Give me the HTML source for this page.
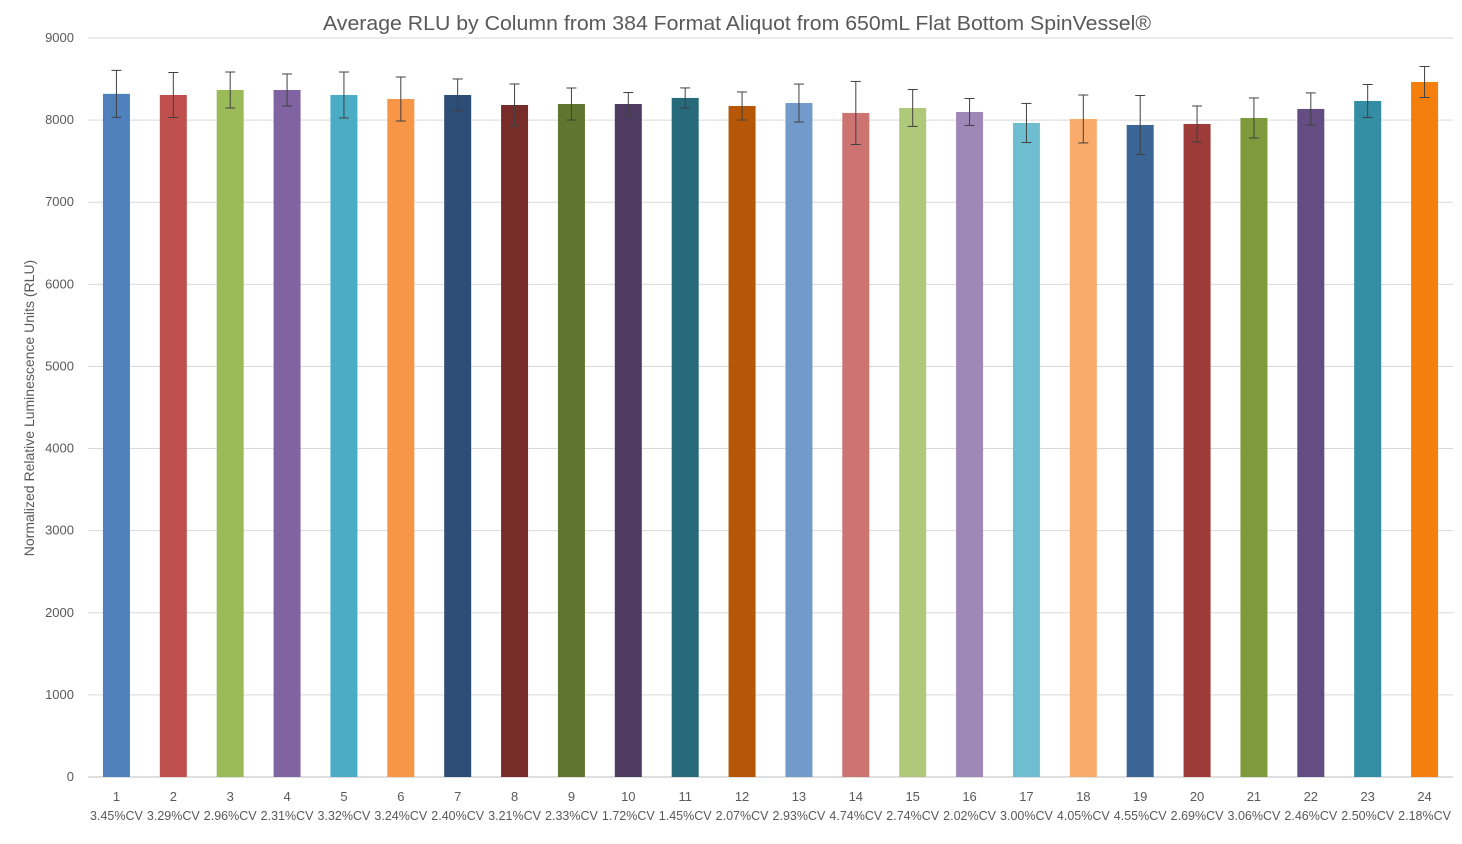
<!DOCTYPE html>
<html><head><meta charset="utf-8"><style>
body{margin:0;background:#fff;}
svg text{font-family:"Liberation Sans",sans-serif;fill:#595959;}
</style></head><body>
<svg width="1462" height="839" id="chart">
<text x="737" y="30" font-size="20.5" text-anchor="middle" textLength="828" lengthAdjust="spacingAndGlyphs">Average RLU by Column from 384 Format Aliquot from 650mL Flat Bottom SpinVessel®</text>
<text transform="translate(34,408) rotate(-90)" font-size="14" text-anchor="middle">Normalized Relative Luminescence Units (RLU)</text>
<g id="grid"></g><g id="bars"></g><g id="xl"></g>
</svg>
<script>
const categories=["1","2","3","4","5","6","7","8","9","10","11","12","13","14","15","16","17","18","19","20","21","22","23","24"];
const cvLabels=["3.45%CV","3.29%CV","2.96%CV","2.31%CV","3.32%CV","3.24%CV","2.40%CV","3.21%CV","2.33%CV","1.72%CV","1.45%CV","2.07%CV","2.93%CV","4.74%CV","2.74%CV","2.02%CV","3.00%CV","4.05%CV","4.55%CV","2.69%CV","3.06%CV","2.46%CV","2.50%CV","2.18%CV"];
const values=[8320,8306,8367,8367,8306,8257,8306,8184,8196,8196,8270,8172,8208,8087,8148,8099,7965,8014,7941,7953,8026,8136,8233,8464];
const errors=[286,274,219,195,280,268,195,256,195,140,122,171,231,384,225,164,238,292,359,219,244,195,201,189];
const yTicks=[0,1000,2000,3000,4000,5000,6000,7000,8000,9000];
const colors=["#4f81bd","#c0504d","#9bbb59","#8064a2","#4bacc6","#f79646","#2c4d75","#772c2a","#5f7530","#4d3b62","#276a7c","#b65708","#729aca","#cd7371","#afc97a","#9d88b7","#6fbdd1","#f9ab6b","#3a6595","#9c3b38","#7d9a3c","#644d82","#338da3","#f57f0c"];
const NS="http://www.w3.org/2000/svg";
const X0=88,X1=1453,Y0=777,Y1=38,YMAX=9000;
const y=v=>Y0-(v/YMAX)*(Y0-Y1);
const bw=(X1-X0)/categories.length;
const cx=i=>X0+bw*(i+0.5);
function mk(tag,attrs,parent){const e=document.createElementNS(NS,tag);for(const k in attrs)e.setAttribute(k,attrs[k]);parent.appendChild(e);return e;}
const grid=document.getElementById('grid'),bars=document.getElementById('bars'),xl=document.getElementById('xl');
yTicks.forEach(t=>{
 const l=mk('line',{x1:X0,x2:X1,y1:y(t),y2:y(t),stroke:t===0?'#bfbfbf':'#d9d9d9','stroke-width':1},grid);
 
 
 const tx=mk('text',{x:74,y:y(t)+4,'font-size':13,'text-anchor':'end'},grid);
 tx.textContent=t;
 
 
});
categories.forEach((c,i)=>{
 const w=27,top=y(values[i]);
 const r=mk('rect',{x:cx(i)-w/2,y:top,width:w,height:Y0-top,fill:colors[i]},bars);
 
 
 const hi=y(values[i]+errors[i]),lo=y(values[i]-errors[i]);
 const g=mk('g',{stroke:'#404040','stroke-width':1},bars);
 
 
 mk('line',{x1:cx(i),x2:cx(i),y1:hi,y2:lo},g);
 mk('line',{x1:cx(i)-5,x2:cx(i)+5,y1:hi,y2:hi},g);
 mk('line',{x1:cx(i)-5,x2:cx(i)+5,y1:lo,y2:lo},g);
 const t1=mk('text',{x:cx(i),y:801,'font-size':13,'text-anchor':'middle'},xl);
 t1.textContent=c;
 
 
 const t2=mk('text',{x:cx(i),y:820,'font-size':12.5,'text-anchor':'middle'},xl);
 t2.textContent=cvLabels[i];
 
 
});
</script>
</body></html>
